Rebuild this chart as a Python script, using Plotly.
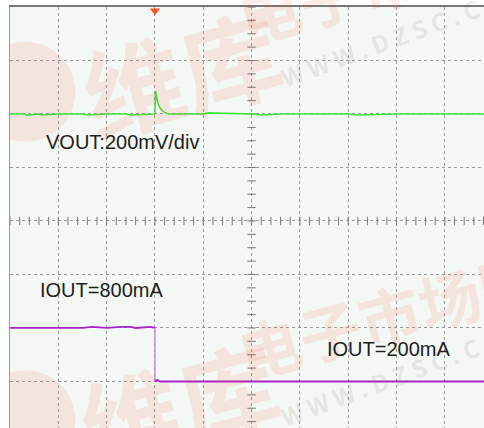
import numpy as np
import plotly.graph_objects as go

# scope screen: 10 horizontal divisions, 8 vertical, centre at (5, 0)
X_RANGE = [0, 9.81]
Y_RANGE = [-3.87, 4.0]

# VOUT trace (green), in divisions
vout_t = [0.0, 0.3, 0.35, 0.6, 0.65, 1.0, 1.5, 1.6, 2.0, 2.4, 2.5, 2.98,
          3.0, 3.01, 3.03, 3.06, 3.10, 3.15, 3.20, 3.28, 3.5, 4.0, 4.1,
          5.0, 5.2, 5.6, 6.0, 7.0, 7.2, 8.0, 9.0, 9.81]
vout = [2.0, 2.0, 1.98, 2.0, 1.98, 2.0, 2.0, 1.98, 2.0, 2.0, 1.98, 2.0,
        2.0, 2.43, 2.30, 2.20, 2.12, 2.06, 2.03, 2.0, 2.0, 2.0, 2.02,
        2.0, 1.98, 2.0, 2.0, 2.0, 1.98, 2.0, 2.0, 2.0]

# IOUT trace (purple) before / after the load step
iout_t_hi = [0.0, 0.5, 1.5, 1.7, 2.0, 2.3, 2.5, 2.6, 2.9, 3.0]
iout_hi = [-2.0, -2.0, -2.0, -1.98, -2.0, -1.98, -1.98, -2.0, -1.98, -2.0]
iout_t_edge = [3.0, 3.0]
iout_edge = [-2.0, -3.0]
iout_t_lo = [3.0, 3.05, 3.1, 3.8, 4.5, 5.5, 6.5, 7.5, 8.5, 9.81]
iout_lo = [-3.0, -2.97, -3.0, -3.0, -3.0, -3.0, -3.0, -3.0, -3.0, -3.0]

trigger_t = 3.0

GREEN = "#3ee43e"
PURPLE = "#a822c8"
PURPLE_EDGE = "#d48ae8"
WM_RED = "rgba(235,80,50,0.11)"
WM_GRAY = "rgba(110,110,110,0.15)"

fig = go.Figure()

# centre-axis subdivision ticks
xt = np.arange(0, 10.01, 0.2)
yt = np.arange(-4, 4.01, 0.25)
fig.add_trace(go.Scatter(x=xt, y=[0] * len(xt), mode="markers",
                         marker=dict(symbol="line-ns", size=6,
                                     line=dict(color="#777", width=1)),
                         hoverinfo="skip", showlegend=False))
fig.add_trace(go.Scatter(x=[5] * len(yt), y=yt, mode="markers",
                         marker=dict(symbol="line-ew", size=6,
                                     line=dict(color="#777", width=1)),
                         hoverinfo="skip", showlegend=False))

fig.add_trace(go.Scatter(x=vout_t, y=vout, mode="lines",
                         line=dict(color=GREEN, width=1.6), showlegend=False))
fig.add_trace(go.Scatter(x=iout_t_hi, y=iout_hi, mode="lines",
                         line=dict(color=PURPLE, width=1.8), showlegend=False))
fig.add_trace(go.Scatter(x=iout_t_edge, y=iout_edge, mode="lines",
                         line=dict(color=PURPLE_EDGE, width=1.5), showlegend=False))
fig.add_trace(go.Scatter(x=iout_t_lo, y=iout_lo, mode="lines",
                         line=dict(color=PURPLE, width=2), showlegend=False))

# trigger marker at top
fig.add_trace(go.Scatter(x=[trigger_t], y=[Y_RANGE[1] - 0.07], mode="markers",
                         marker=dict(symbol="triangle-down", size=9, color="#ff5522"),
                         cliponaxis=False, showlegend=False))

# watermark (faint logo circles)
for y0, y1 in [(3.35, 1.48), (-2.79, -4.65)]:
    fig.add_shape(type="circle", xref="x", yref="y", x0=-0.72, x1=1.35,
                  y0=y0, y1=y1, fillcolor=WM_RED, line_width=0, layer="below")

wm = [
    ("维库", 0.36, 0.85, 100, WM_RED, -15),
    ("维库", 0.356, 0.06, 100, WM_RED, -15),
    ("电子市场网", 0.80, 1.069, 62, WM_RED, -15),
    ("电子市场网", 0.80, 0.273, 62, WM_RED, -15),
    ("W W W . D Z S C . C O M", 0.831, 0.938, 24, WM_GRAY, -20),
    ("W W W . D Z S C . C O M", 0.831, 0.131, 24, WM_GRAY, -20),
]
for txt, x, y, size, col, ang in wm:
    fig.add_annotation(text=txt, x=x, y=y, xref="paper", yref="paper",
                       xanchor="center", yanchor="middle",
                       showarrow=False, textangle=ang,
                       font=dict(family="Noto Sans CJK SC, Liberation Sans",
                                 size=size, color=col, weight="bold"))

labels = [
    ("VOUT:200mV/div", 2.32, 1.48),
    ("IOUT=800mA", 1.89, -1.29),
    ("IOUT=200mA", 7.83, -2.39),
]
for txt, x, y in labels:
    fig.add_annotation(text=txt, x=x, y=y, showarrow=False,
                       font=dict(family="Liberation Sans, Arial", size=20,
                                 color="#1e1e1e"))

fig.update_xaxes(range=X_RANGE, dtick=1, tick0=0, showgrid=True,
                 gridcolor="#9a9a9a", griddash="dot", gridwidth=1,
                 zeroline=False, showticklabels=False, ticks="",
                 side="top", showline=True, linecolor="#777", linewidth=2)
fig.update_yaxes(range=Y_RANGE, dtick=1, tick0=0, showgrid=True,
                 gridcolor="#9a9a9a", griddash="dot", gridwidth=1,
                 zeroline=False, showticklabels=False, ticks="",
                 showline=True, linecolor="#9a9a9a", linewidth=1)

fig.update_layout(
    width=484, height=428,
    margin=dict(l=10, r=0, t=7, b=0),
    paper_bgcolor="white",
    plot_bgcolor="#f4f8f4",
    showlegend=False,
)

# drop the default 8px page margin so the figure fills the window
fig.write_html("out.html", config={"displayModeBar": False},
               post_script="document.body.style.margin='0';")
